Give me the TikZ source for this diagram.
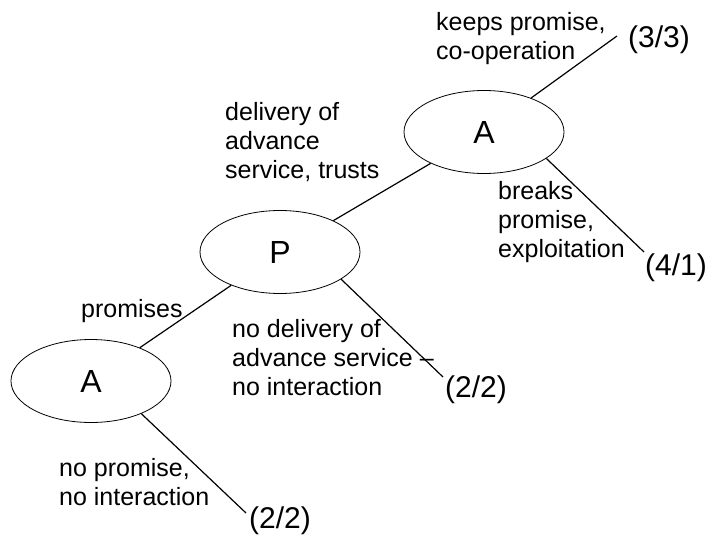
\documentclass[tikz,border=0pt]{standalone}
\usepackage{fontspec}
\setmainfont{Liberation Sans}
\usetikzlibrary{shapes.geometric}
\begin{document}
\begin{tikzpicture}[x=1pt,y=-1pt,
  player/.style={ellipse,draw,line width=0.8pt,minimum width=160pt,minimum height=83pt,inner sep=0pt,font=\fontsize{32}{36}\selectfont},
  lbl/.style={anchor=north west,inner sep=0pt,align=left,font=\fontsize{25}{29}\selectfont},
  pay/.style={anchor=west,inner sep=0pt,font=\fontsize{30}{34}\selectfont},
  edge/.style={line width=1.2pt}]
\useasboundingbox (0,0) rectangle (714,540);
\node[player] (A1) at (91,381) {A};
\node[player] (P) at (280,252) {P};
\node[player] (A2) at (484,132) {A};
\coordinate (c33) at (617,36);
\coordinate (c41) at (644,252);
\coordinate (c22a) at (443,377);
\coordinate (c22b) at (246,513);
\node[pay] (p33) at (628,40) {(3/3)};
\node[pay] (p41) at (645,268) {(4/1)};
\node[pay] (p22a) at (445,390) {(2/2)};
\node[pay] (p22b) at (249,521) {(2/2)};
\draw[edge] (A1) -- (P);
\draw[edge] (P) -- (A2);
\draw[edge] (A2) -- (c33);
\draw[edge] (A2.-23) -- (c41);
\draw[edge] (P.-24) -- (c22a);
\draw[edge] (A1.-33) -- (c22b);
\node[lbl] (l1) at (436,12) {keeps promise,\\co-operation};
\node[lbl] (l2) at (225,102) {delivery of\\advance\\service, trusts};
\node[lbl] (l3) at (498,181) {breaks\\promise,\\exploitation};
\node[lbl] (l4) at (81,299) {promises};
\node[lbl] (l5) at (232,319) {no delivery of\\advance service --\\no interaction};
\node[lbl] (l6) at (59,458) {no promise,\\no interaction};
\end{tikzpicture}
\end{document}
